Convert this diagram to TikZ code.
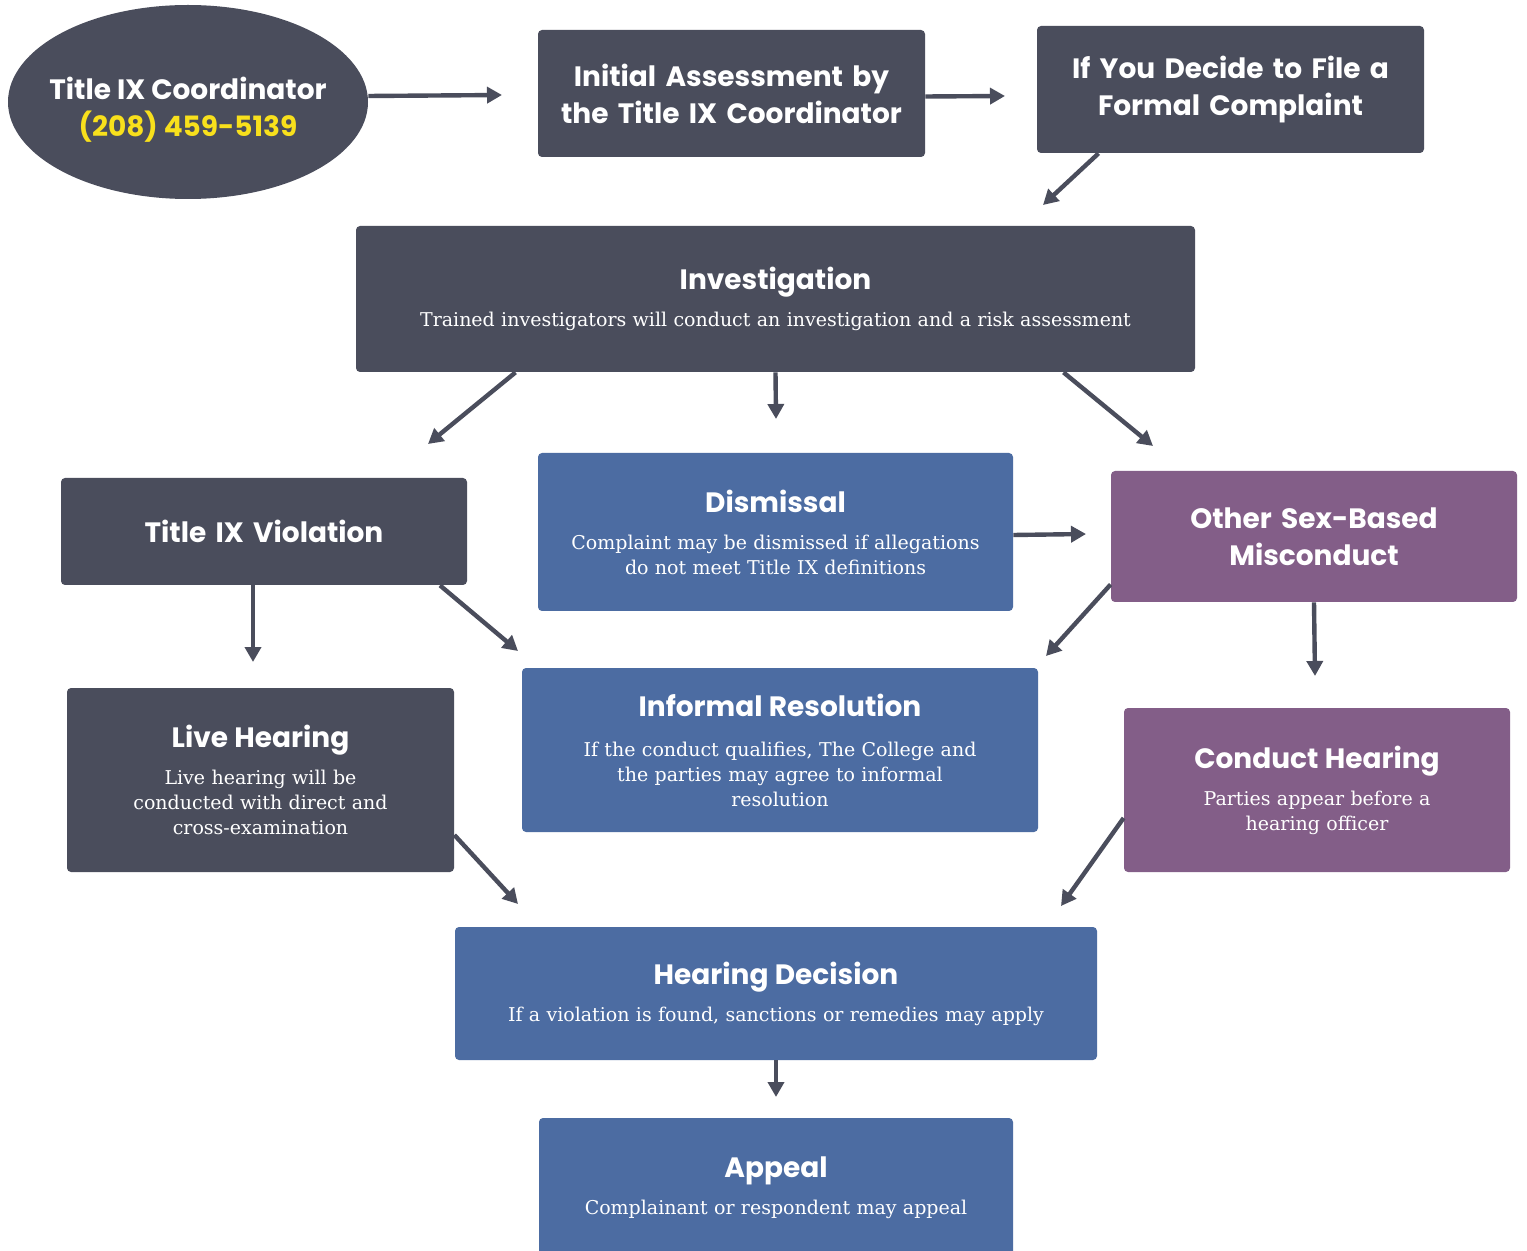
\documentclass[tikz,border=0pt]{standalone}
\usepackage{fontspec}
\setmainfont{DejaVu Serif}
\newfontfamily\headfont{Poppins}
\usetikzlibrary{shapes.geometric, arrows.meta}

\definecolor{slate}{RGB}{74,77,92}
\definecolor{steel}{RGB}{76,108,162}
\definecolor{plum}{RGB}{131,94,136}
\definecolor{phone}{RGB}{248,224,28}

\newcommand{\headtext}{\headfont\bfseries\fontsize{14}{18.5}\selectfont}
\newcommand{\smalltext}{\fontsize{9.5}{12.5}\selectfont}

\begin{document}
\begin{tikzpicture}[x=0.5pt, y=-0.5pt,
    card/.style={rectangle, rounded corners=2pt, text=white, align=center, inner sep=0pt, font=\smalltext},
    darkcard/.style={card, fill=slate},
    bluecard/.style={card, fill=steel},
    plumcard/.style={card, fill=plum},
    flow/.style={draw=slate, line width=2.2pt, -{Triangle[length=7.5pt, width=8pt]}}]

    \useasboundingbox (0,0) rectangle (1527,1251);
    \fill[white] (0,0) rectangle (1527,1251);

    % top row
    \node[ellipse, fill=slate, minimum width=180pt, minimum height=97pt, inner xsep=-6pt, inner ysep=0pt, align=center, font=\headtext] (coord) at (188,102)
        {\mbox{}\\[0pt]\textcolor{white}{Title IX Coordinator}\\\textcolor{phone}{(208) 459-5139}};
    \node[darkcard, font=\headtext, minimum width=193.5pt, minimum height=63.5pt, text width=180pt] (assess) at (731.5,93.5)
        {Initial Assessment by\\the Title IX Coordinator};
    \node[darkcard, font=\headtext, minimum width=193.5pt, minimum height=63.5pt, text width=180pt] (formal) at (1230.5,89.5)
        {If You Decide to File a\\Formal Complaint};

    % investigation
    \node[darkcard, minimum width=419.5pt, minimum height=73pt, text width=400pt] (invest) at (775.5,299)
        {{\headtext Investigation\par}\vspace{6pt}Trained investigators will conduct an investigation and a risk assessment};

    % outcomes
    \node[darkcard, font=\headtext, minimum width=203pt, minimum height=53.5pt, text width=190pt] (viol) at (264,531.5)
        {Title IX Violation};
    \node[bluecard, minimum width=237.5pt, minimum height=79pt, text width=225pt] (dismiss) at (775.5,532)
        {{\headtext Dismissal\par}\vspace{6pt}Complaint may be dismissed if allegations\\do not meet Title IX definitions};
    \node[plumcard, font=\headtext, minimum width=203pt, minimum height=65.5pt, text width=190pt] (other) at (1314,536.5)
        {Other Sex-Based\\Misconduct};

    % hearings
    \node[darkcard, minimum width=193.5pt, minimum height=92pt, text width=180pt] (live) at (260.5,780)
        {{\headtext Live Hearing\par}\vspace{6pt}Live hearing will be\\conducted with direct and\\cross-examination};
    \node[bluecard, minimum width=258pt, minimum height=82pt, text width=245pt] (informal) at (780,750)
        {{\headtext Informal Resolution\par}\vspace{7.5pt}If the conduct qualifies, The College and\\the parties may agree to informal\\resolution\\[-4pt]};
    \node[plumcard, minimum width=193pt, minimum height=82pt, text width=180pt] (conduct) at (1317,790)
        {{\headtext Conduct Hearing\par}\vspace{6pt}Parties appear before a\\hearing officer};

    % decision and appeal
    \node[bluecard, minimum width=321pt, minimum height=66.5pt, text width=310pt] (decision) at (776,993.5)
        {{\headtext Hearing Decision\par}\vspace{6pt}If a violation is found, sanctions or remedies may apply};
    \node[bluecard, minimum width=237pt, minimum height=70pt, text width=225pt] (appeal) at (776,1188)
        {{\headtext Appeal\par}\vspace{6pt}Complainant or respondent may appeal\\[11pt]};

    % free ends of the connectors
    \coordinate (e1) at (502,95);
    \coordinate (e2) at (1005,96);
    \coordinate (e3) at (1043,205);
    \coordinate (e4) at (428,444);
    \coordinate (e5) at (776,419);
    \coordinate (e6) at (1153,446);
    \coordinate (e7) at (253,662);
    \coordinate (e8) at (518,651);
    \coordinate (e9) at (1086,534);
    \coordinate (e10) at (1046,656);
    \coordinate (e11) at (1315,676);
    \coordinate (e12) at (518,904);
    \coordinate (e13) at (1061,906);
    \coordinate (e14) at (776,1097);

    \draw[flow] ([yshift=3pt]coord.east) -- (e1);
    \draw[flow] ([yshift=-1.5pt]assess.east) -- (e2);
    \draw[flow] ([xshift=-66pt]formal.south) -- (e3);

    \draw[flow] ([xshift=-130pt]invest.south) -- (e4);
    \draw[flow] (invest.south) -- (e5);
    \draw[flow] ([xshift=144pt]invest.south) -- (e6);

    \draw[flow] ([xshift=-5.5pt]viol.south) -- (e7);
    \draw[flow] ([xshift=88pt]viol.south) -- (e8);
    \draw[flow] ([yshift=-1.5pt]dismiss.east) -- (e9);
    \draw[flow] ([yshift=-24pt]other.west) -- (e10);
    \draw[flow] (other.south) -- (e11);

    \draw[flow] ([yshift=-27.5pt]live.east) -- (e12);
    \draw[flow] ([yshift=-14pt]conduct.west) -- (e13);
    \draw[flow] (decision.south) -- (e14);
\end{tikzpicture}
\end{document}
